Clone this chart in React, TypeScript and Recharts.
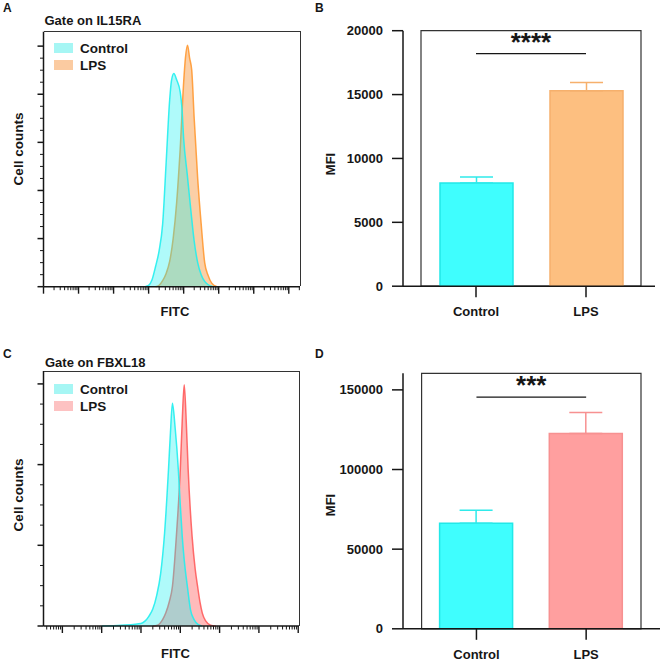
import React from 'react';
import {
  AreaChart, Area, BarChart, Bar, Cell, XAxis, YAxis, ErrorBar, ReferenceLine, ReferenceArea, Legend,
} from 'recharts';

const FONT = '"Liberation Sans", Arial, Helvetica, sans-serif';
const INK = '#161616';

// A: histogram, Gate on IL15RA (x = FITC in log decades, y = cell counts)
const il15CtrlX = [2.9, 3.0, 3.1, 3.2, 3.3, 3.4, 3.5, 3.6, 3.65, 3.72, 3.8, 3.9, 3.95, 4.0, 4.1, 4.2, 4.3, 4.4, 4.5, 4.6, 4.7, 4.85];
const il15CtrlY = [0, 5, 30, 85, 150, 260, 515, 775, 855, 886, 860, 810, 745, 615, 470, 325, 190, 100, 50, 22, 8, 0];
const il15LpsX = [3.2, 3.3, 3.4, 3.5, 3.6, 3.7, 3.8, 3.9, 4.0, 4.05, 4.11, 4.17, 4.23, 4.3, 4.4, 4.5, 4.6, 4.7, 4.8, 4.95];
const il15LpsY = [0, 6, 25, 55, 105, 200, 350, 570, 850, 950, 1004, 950, 900, 700, 450, 260, 100, 46, 15, 0];
const il15YMajor = [0, 200, 400, 600, 800, 1000];

// C: histogram, Gate on FBXL18
const fbCtrlX = [1.0, 1.5, 1.8, 2.0, 2.1, 2.2, 2.3, 2.4, 2.5, 2.6, 2.7, 2.75, 2.8, 2.87, 2.95, 3.0, 3.05, 3.1, 3.18, 3.26, 3.35, 3.45, 3.55];
const fbCtrlY = [0, 1, 2, 3, 6, 12, 21, 38, 65, 115, 194, 240, 276, 245, 194, 150, 111, 82, 49, 20, 8, 2, 0];
const fbLpsX = [2.3, 2.42, 2.55, 2.63, 2.72, 2.8, 2.9, 3.0, 3.05, 3.1, 3.15, 3.2, 3.3, 3.38, 3.44, 3.5, 3.56, 3.65, 3.77, 3.9];
const fbLpsY = [0, 1, 8, 16, 30, 49, 111, 194, 255, 299, 255, 194, 111, 70, 49, 30, 16, 6, 1, 0];
const fbYMajor = [0, 100, 200, 300];

// B / D: MFI bars (mean + SD)
const groups = ['Control', 'LPS'];
const il15Mfi = [8080, 15300];
const il15Sd = [470, 650];
const il15Ticks = [0, 5000, 10000, 15000, 20000];
const fbMfi = [66300, 122600];
const fbSd = [8200, 13200];
const fbTicks = [0, 50000, 100000, 150000];

const CYAN = '#3ffefe';
const CYAN_EDGE = '#22e8e8';
const ORANGE = '#fdbf80';
const ORANGE_EDGE = '#f6b06c';
const PINK = '#ff9f9f';
const PINK_EDGE = '#f79191';

function histRows(cx: number[], cy: number[], lx: number[], ly: number[]) {
  const rows: any[] = [
    ...cx.map((x, i) => ({ x, ctrl: cy[i] })),
    ...lx.map((x, i) => ({ x, lps: ly[i] })),
  ];
  return rows.sort((a, b) => a.x - b.x);
}

// log decade ticks: integers are majors, 2..9 in between are minors
function logTicks(lo: number, hi: number) {
  const out: number[] = [];
  for (let k = Math.floor(lo); k <= Math.ceil(hi); k++) {
    for (let m = 1; m <= 9; m++) {
      const v = k + Math.log10(m);
      if (v >= lo && v <= hi) out.push(v);
    }
  }
  return out;
}

function withMinors(major: number[], parts: number) {
  const out: number[] = [];
  major.forEach((v, i) => {
    out.push(v);
    if (i < major.length - 1) {
      const step = (major[i + 1] - v) / parts;
      for (let j = 1; j < parts; j++) out.push(v + step * j);
    }
  });
  return out;
}

const LogTick = ({ x, y, payload }: any) => {
  const v = payload.value;
  const major = Math.abs(v - Math.round(v)) < 1e-6;
  return <line x1={x} x2={x} y1={y} y2={y + (major ? 7 : 3.5)} stroke={INK} strokeWidth={major ? 1.4 : 1} />;
};

const CountTick = ({ x, y, payload, majors }: any) => {
  const major = majors.includes(payload.value);
  return <line x1={x - (major ? 6 : 3.5)} x2={x} y1={y} y2={y} stroke={INK} strokeWidth={major ? 1.5 : 1} />;
};

const HistLegend = ({ items }: { items: { label: string; color: string }[] }) => (
  <div style={{ fontFamily: FONT, fontWeight: 700, fontSize: 13.5, color: INK }}>
    {items.map((it) => (
      <div key={it.label} style={{ display: 'flex', alignItems: 'flex-start', height: 17, lineHeight: '17px' }}>
        <span style={{ width: 19, height: 10, marginTop: 2.8, marginRight: 7, background: it.color }} />
        {it.label}
      </div>
    ))}
  </div>
);

const SigLabel = ({ viewBox, text }: any) => {
  const x = viewBox.x + (viewBox.width || 0) / 2;
  return (
    <text x={x} y={viewBox.y - 3} textAnchor="middle" fontSize={26} fontWeight={700} fill={INK} fontFamily={FONT}>
      {text}
    </text>
  );
};

function Histogram({ rows, xDomain, yDomain, yMajor, top, right, bottom, legendTop, lpsColor, lpsFill, lpsSwatch }: any) {
  const plotW = 330 - 43.5 - right;
  return (
    <div style={{ position: 'relative' }}>
      <AreaChart width={330} height={top + 255 + bottom} data={rows} margin={{ top, right, bottom: 0, left: 0 }}>
        <XAxis
          type="number" dataKey="x" domain={xDomain} ticks={logTicks(xDomain[0], xDomain[1])} interval={0}
          height={bottom} tickSize={0} tickMargin={0} tickLine={false} tick={<LogTick />}
          axisLine={{ stroke: INK, strokeWidth: 1.5 }}
        />
        <YAxis
          type="number" domain={yDomain} ticks={withMinors(yMajor, 4)} interval={0}
          width={43.5} tickSize={0} tickMargin={0} tickLine={false} tick={<CountTick majors={yMajor} />}
          axisLine={{ stroke: INK, strokeWidth: 1.5 }}
        />
        <Legend
          layout="vertical" align="center" verticalAlign="middle"
          wrapperStyle={{ top: legendTop, left: 54, width: 'auto', height: 'auto' }}
          content={() => <HistLegend items={[{ label: 'Control', color: '#a6f6f4' }, { label: 'LPS', color: lpsSwatch }]} />}
        />
        <Area dataKey="lps" type="monotone" connectNulls stroke={lpsColor} strokeWidth={1.5} strokeOpacity={0.9}
          fill={lpsFill} fillOpacity={0.48} isAnimationActive={false} />
        <Area dataKey="ctrl" type="monotone" connectNulls stroke="#22eeee" strokeWidth={1.5} strokeOpacity={0.9}
          fill="#19f0f0" fillOpacity={0.35} isAnimationActive={false} />
      </AreaChart>
      {/* top and right frame of the plot box */}
      <div style={{
        position: 'absolute', left: 43.5, top: top - 0.5, width: plotW + 0.5, height: 255,
        borderTop: '1px solid #333', borderRight: '1px solid #333', boxSizing: 'border-box', pointerEvents: 'none',
      }} />
    </div>
  );
}

function MfiBars({ mfi, sd, ticks, yMax, sigY, stars, top, height, right, pad, lpsFill, lpsEdge }: any) {
  // error bars point up only: [below, above]
  const rows = groups.map((group, i) => ({
    group,
    mfi: mfi[i],
    ctrlErr: i === 0 ? [0, sd[i]] : undefined,
    lpsErr: i === 1 ? [0, sd[i]] : undefined,
  }));
  const fills = [CYAN, lpsFill];
  const edges = [CYAN_EDGE, lpsEdge];
  return (
    <BarChart width={331} height={height} data={rows} margin={{ top, right, bottom: 0, left: 0 }} barSize={73}>
      <ReferenceArea y1={0} y2={yMax} fill="none" stroke="#333" strokeWidth={1.2} />
      <XAxis
        dataKey="group" height={height - top - 255.5} padding={pad} tickSize={11} tickMargin={10}
        axisLine={{ stroke: INK, strokeWidth: 1.5 }} tickLine={{ stroke: INK, strokeWidth: 1.5 }}
        tick={{ fill: INK, fontSize: 13, fontWeight: 700, fontFamily: FONT }}
      />
      <YAxis
        width={73} domain={[0, yMax]} ticks={ticks} interval={0} tickSize={11} tickMargin={9}
        axisLine={{ stroke: INK, strokeWidth: 1.5 }} tickLine={{ stroke: INK, strokeWidth: 1.5 }}
        tick={{ fill: INK, fontSize: 13, fontWeight: 700, fontFamily: FONT }}
      />
      <Bar dataKey="mfi" strokeWidth={1.5} isAnimationActive={false}>
        {rows.map((r, i) => (
          <Cell key={r.group} fill={fills[i]} stroke={edges[i]} />
        ))}
        <ErrorBar dataKey="ctrlErr" width={16.5} stroke="#2feaea" strokeWidth={1.5} direction="y" />
        <ErrorBar dataKey="lpsErr" width={16.5} stroke={lpsEdge} strokeWidth={1.5} direction="y" />
      </Bar>
      <ReferenceLine
        segment={[{ x: 'Control', y: sigY }, { x: 'LPS', y: sigY }]}
        stroke={INK} strokeWidth={1.2}
        label={<SigLabel text={stars} />}
      />
    </BarChart>
  );
}

export default function App() {
  const ilRows = histRows(il15CtrlX, il15CtrlY, il15LpsX, il15LpsY);
  const fbRows = histRows(fbCtrlX, fbCtrlY, fbLpsX, fbLpsY);

  const t = { fontFamily: FONT, fontWeight: 700, fill: INK } as const;

  return (
    <div style={{ position: 'absolute', left: 0, top: 0, width: 661, height: 661, background: '#fff', fontFamily: FONT }}>
      <div style={{ position: 'absolute', left: 0, top: 0 }}>
        <Histogram rows={ilRows} xDomain={[0, 7.32]} yDomain={[0, 1060]} yMajor={il15YMajor}
          top={31.7} right={30} bottom={44} legendTop={39.8}
          lpsColor="#ff9933" lpsFill="#f79a45" lpsSwatch="#fbcba1" />
      </div>
      <div style={{ position: 'absolute', left: 330, top: 0 }}>
        <MfiBars mfi={il15Mfi} sd={il15Sd} ticks={il15Ticks} yMax={20000} sigY={18200} stars="****"
          top={30.7} height={330} right={6} pad={{ left: 18, right: 14 }}
          lpsFill={ORANGE} lpsEdge={ORANGE_EDGE} />
      </div>
      <div style={{ position: 'absolute', left: 0, top: 330 }}>
        <Histogram rows={fbRows} xDomain={[-0.48, 6.02]} yDomain={[0, 316]} yMajor={fbYMajor}
          top={41} right={31} bottom={35} legendTop={50.8}
          lpsColor="#ff5c5c" lpsFill="#ff7070" lpsSwatch="#fdc2c2" />
      </div>
      <div style={{ position: 'absolute', left: 330, top: 330 }}>
        <MfiBars mfi={fbMfi} sd={fbSd} ticks={fbTicks} yMax={160400} sigY={145400} stars="***"
          top={43.3} height={331} right={1} pad={{ left: 18.6, right: 19 }}
          lpsFill={PINK} lpsEdge={PINK_EDGE} />
      </div>

      <svg width={661} height={661} style={{ position: 'absolute', left: 0, top: 0, pointerEvents: 'none' }}>
        <text x={3} y={11.7} fontSize={12} {...t}>A</text>
        <text x={315} y={11.7} fontSize={12} {...t}>B</text>
        <text x={3} y={358.3} fontSize={12} {...t}>C</text>
        <text x={315} y={358.3} fontSize={12} {...t}>D</text>

        <text x={44.5} y={25} fontSize={13} {...t}>Gate on IL15RA</text>
        <text x={45} y={366.7} fontSize={13} {...t}>Gate on FBXL18</text>

        <text x={23} y={149} fontSize={13.5} textAnchor="middle" transform="rotate(-90 23 149)" {...t}>Cell counts</text>
        <text x={23} y={495} fontSize={13.5} textAnchor="middle" transform="rotate(-90 23 495)" {...t}>Cell counts</text>
        <text x={175} y={316} fontSize={13} textAnchor="middle" {...t}>FITC</text>
        <text x={175.5} y={658} fontSize={13} textAnchor="middle" {...t}>FITC</text>

        <text x={335} y={164} fontSize={13} textAnchor="middle" transform="rotate(-90 335 164)" {...t}>MFI</text>
        <text x={335} y={505} fontSize={13} textAnchor="middle" transform="rotate(-90 335 505)" {...t}>MFI</text>
      </svg>
    </div>
  );
}
